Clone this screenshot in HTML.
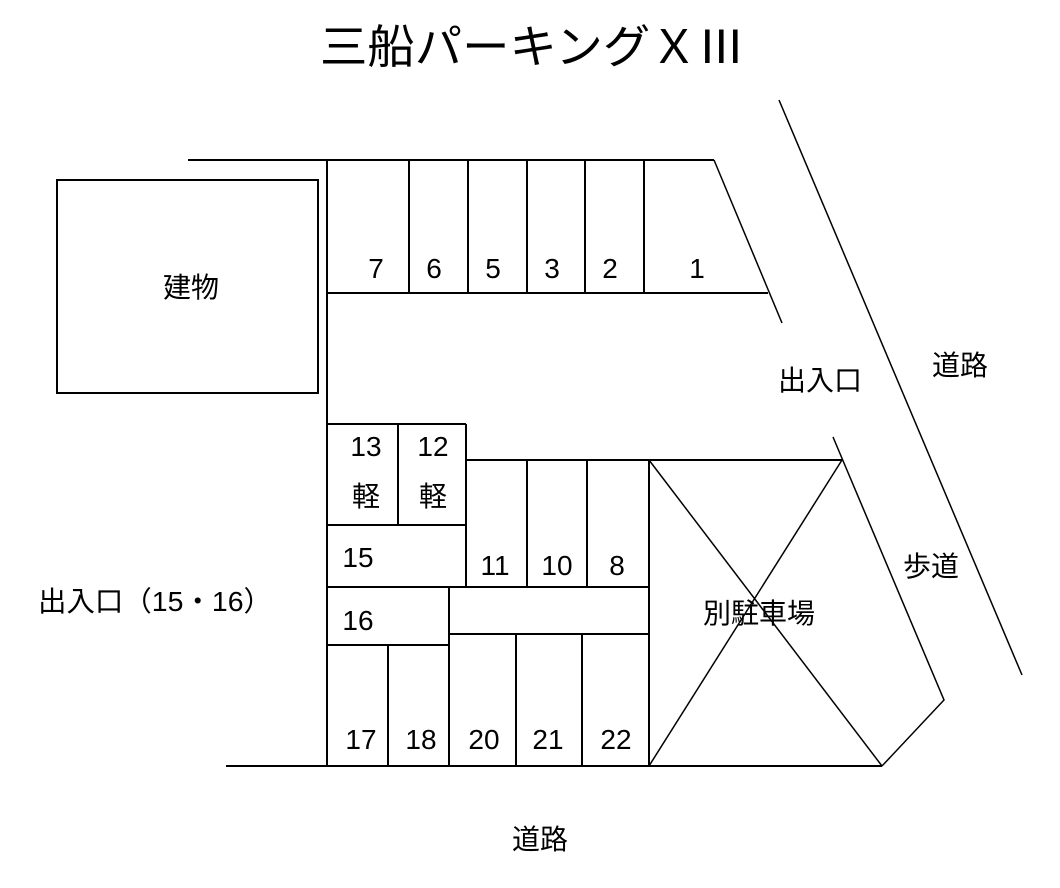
<!DOCTYPE html>
<html><head><meta charset="utf-8"><style>
html,body{margin:0;padding:0;background:#fff;}
svg{display:block;}
text{font-family:"Liberation Sans","Noto Sans CJK JP",sans-serif;fill:#000;}
</style></head><body>
<svg width="1060" height="888" viewBox="0 0 1060 888" xmlns="http://www.w3.org/2000/svg">
<g stroke="#000" stroke-width="2" fill="none">
<line x1="188" y1="160" x2="714" y2="160"/>
<line x1="327" y1="160" x2="327" y2="766"/>
<line x1="409" y1="160" x2="409" y2="293"/>
<line x1="468" y1="160" x2="468" y2="293"/>
<line x1="527" y1="160" x2="527" y2="293"/>
<line x1="585" y1="160" x2="585" y2="293"/>
<line x1="644" y1="160" x2="644" y2="293"/>
<line x1="327" y1="293" x2="768" y2="293"/>
<rect x="57" y="180" width="261" height="213"/>
<line x1="327" y1="424" x2="466" y2="424"/>
<line x1="398" y1="424" x2="398" y2="525"/>
<line x1="327" y1="525" x2="466" y2="525"/>
<line x1="466" y1="424" x2="466" y2="587"/>
<line x1="466" y1="460" x2="842" y2="460"/>
<line x1="527" y1="460" x2="527" y2="587"/>
<line x1="587" y1="460" x2="587" y2="587"/>
<line x1="649" y1="460" x2="649" y2="766"/>
<line x1="327" y1="587" x2="649" y2="587"/>
<line x1="327" y1="645" x2="449" y2="645"/>
<line x1="449" y1="587" x2="449" y2="766"/>
<line x1="449" y1="634" x2="649" y2="634"/>
<line x1="388" y1="645" x2="388" y2="766"/>
<line x1="516" y1="634" x2="516" y2="766"/>
<line x1="582" y1="634" x2="582" y2="766"/>
<line x1="226" y1="766" x2="882" y2="766"/>
</g>
<g stroke="#000" stroke-width="1.5" fill="none">
<line x1="714" y1="160" x2="782" y2="323"/>
<line x1="649" y1="460" x2="882" y2="766"/>
<line x1="842" y1="460" x2="649" y2="766"/>
<polyline points="833,437 944,700 882,766"/>
<line x1="779" y1="100" x2="1022" y2="675"/>
</g>
<text x="320" y="63" font-size="46" textLength="425" lengthAdjust="spacingAndGlyphs">三船パーキングＸⅢ</text>
<g font-size="28" text-anchor="middle">
<text x="376" y="278">7</text><text x="434" y="278">6</text><text x="493" y="278">5</text>
<text x="552" y="278">3</text><text x="610" y="278">2</text><text x="697" y="278">1</text>
<text x="366" y="456">13</text><text x="433" y="456">12</text>
<text x="366" y="506">軽</text><text x="433" y="506">軽</text>
<text x="358" y="567">15</text>
<text x="495" y="575">11</text><text x="557" y="575">10</text><text x="617" y="575">8</text>
<text x="358" y="630">16</text>
<text x="361" y="749">17</text><text x="421" y="749">18</text><text x="484" y="749">20</text>
<text x="548" y="749">21</text><text x="616" y="749">22</text>
<text x="191" y="297">建物</text>
<text x="820" y="390">出入口</text>
<text x="960" y="375">道路</text>
<text x="931" y="576">歩道</text>
<text x="759" y="623">別駐車場</text>
<text x="540" y="849">道路</text>
</g>
<text x="38" y="611" font-size="28" textLength="234" lengthAdjust="spacingAndGlyphs">出入口（15・16）</text>
</svg>
</body></html>
